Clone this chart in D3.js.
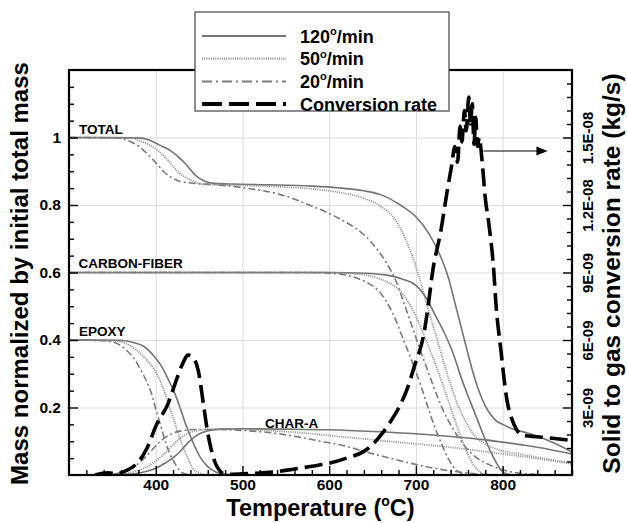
<!DOCTYPE html>
<html>
<head>
<meta charset="utf-8">
<script src="https://cdn.jsdelivr.net/npm/d3@7"></script>
<style>
  html, body { margin: 0; padding: 0; background: #fff; }
  svg { display: block; font-family: "Liberation Sans", Arial, Helvetica, sans-serif; font-weight: bold; }
</style>
</head>
<body>
<svg id="chart" width="627" height="523"></svg>
<script>
// ---- Mass fractions vs temperature [T (°C), fraction of initial mass] ----
const total120 = [[300,1],[380,0.999],[392,0.993],[401,0.982],[409,0.972],[417,0.961],[425,0.945],[433,0.926],[440,0.905],[445,0.89],[451,0.878],[458,0.869],[468,0.864],[490,0.862],[530,0.86],[580,0.856],[610,0.851],[640,0.842],[660,0.83],[682,0.8],[700,0.765],[715,0.715],[728,0.65],[738,0.58],[744,0.52],[750,0.46],[756,0.4],[762,0.34],[768,0.285],[774,0.24],[780,0.205],[786,0.18],[792,0.162],[800,0.15],[810,0.138],[825,0.127],[840,0.115],[860,0.094],[880,0.068]];
const total50 = [[300,1],[370,0.999],[382,0.99],[394,0.976],[403,0.96],[411,0.941],[419,0.918],[426,0.897],[434,0.882],[442,0.872],[452,0.862],[470,0.86],[500,0.858],[550,0.853],[579,0.848],[610,0.838],[640,0.82],[660,0.795],[675,0.76],[688,0.7],[697,0.64],[705,0.575],[712,0.51],[720,0.44],[728,0.37],[736,0.3],[745,0.23],[755,0.17],[765,0.125],[778,0.095],[795,0.075],[820,0.062],[850,0.048],[880,0.035]];
const total20 = [[300,1],[355,0.999],[364,0.995],[373,0.985],[382,0.971],[390,0.952],[398,0.931],[404,0.914],[410,0.897],[418,0.882],[426,0.872],[441,0.865],[470,0.86],[501,0.851],[541,0.833],[579,0.798],[600,0.775],[620,0.748],[640,0.712],[655,0.67],[668,0.62],[677,0.575],[685,0.518],[693,0.46],[701,0.4],[710,0.335],[720,0.265],[730,0.2],[742,0.14],[755,0.09],[768,0.055],[785,0.03],[805,0.012],[830,0.003],[860,0]];

const fiber120 = [[300,0.6],[600,0.6],[640,0.598],[665,0.593],[685,0.58],[700,0.562],[713,0.52],[723,0.47],[733,0.42],[743,0.36],[752,0.29],[760,0.235],[767,0.19],[773,0.15],[780,0.105],[786,0.07],[792,0.04],[798,0.015],[805,0.003],[815,0],[880,0]];
const fiber50 = [[300,0.6],[590,0.6],[625,0.597],[650,0.588],[668,0.57],[680,0.55],[690,0.518],[700,0.47],[710,0.41],[720,0.345],[730,0.275],[740,0.2],[748,0.14],[756,0.085],[763,0.045],[770,0.018],[778,0.004],[790,0],[880,0]];
const fiber20 = [[300,0.6],[570,0.6],[605,0.597],[630,0.585],[645,0.568],[656,0.548],[665,0.518],[675,0.47],[685,0.405],[695,0.34],[705,0.27],[714,0.2],[722,0.14],[730,0.09],[737,0.05],[744,0.022],[752,0.006],[762,0],[880,0]];

const epoxy120 = [[300,0.4],[360,0.399],[375,0.392],[387,0.38],[397,0.355],[407,0.321],[415,0.28],[422,0.242],[428,0.2],[434,0.154],[440,0.115],[445,0.085],[452,0.05],[460,0.025],[470,0.008],[480,0.002],[500,0],[880,0]];
const epoxy50 = [[300,0.4],[350,0.398],[365,0.39],[378,0.37],[390,0.34],[399,0.31],[405,0.28],[411,0.24],[416,0.2],[422,0.154],[427,0.115],[432,0.08],[437,0.05],[442,0.022],[450,0.006],[460,0],[880,0]];
const epoxy20 = [[300,0.4],[340,0.398],[355,0.39],[366,0.37],[375,0.345],[382,0.315],[389,0.28],[395,0.242],[399,0.205],[403,0.17],[407,0.135],[411,0.1],[416,0.065],[422,0.035],[428,0.012],[436,0.002],[445,0],[880,0]];

const charA120 = [[300,0],[370,0.002],[385,0.008],[400,0.02],[412,0.037],[422,0.055],[430,0.075],[437,0.095],[445,0.113],[453,0.125],[462,0.132],[475,0.136],[500,0.137],[550,0.136],[600,0.134],[650,0.129],[700,0.122],[740,0.114],[780,0.104],[820,0.09],[850,0.078],[880,0.062]];
const charA50 = [[300,0],[360,0.002],[375,0.01],[390,0.025],[402,0.045],[412,0.068],[420,0.09],[428,0.108],[436,0.122],[445,0.13],[458,0.135],[480,0.136],[520,0.133],[568,0.125],[620,0.112],[680,0.097],[733,0.084],[790,0.066],[836,0.05],[880,0.033]];
const charA20 = [[300,0],[350,0.002],[362,0.01],[375,0.025],[386,0.048],[396,0.075],[404,0.097],[412,0.113],[420,0.124],[430,0.131],[445,0.135],[470,0.135],[500,0.132],[530,0.126],[560,0.115],[590,0.1],[620,0.085],[640,0.07],[670,0.05],[702,0.03],[730,0.016],[752,0.008],[775,0.002],[800,0],[880,0]];

// ---- Solid to gas conversion rate [T (°C), kg/s] ----
const conversionRate = [[330,0],[345,0.1e-9],[355,0.06e-9],[365,0.18e-9],[375,0.4e-9],[382,0.68e-9],[390,1.2e-9],[401,2.24e-9],[414,3.15e-9],[425,4.35e-9],[432,5.03e-9],[437,5.33e-9],[442,5.25e-9],[449,4.65e-9],[455,3.15e-9],[459,2.1e-9],[464,1.13e-9],[468,0.6e-9],[473,0.23e-9],[478,0.06e-9],[485,0.03e-9],[500,0.05e-9],[520,0.09e-9],[540,0.15e-9],[560,0.27e-9],[580,0.39e-9],[602,0.54e-9],[620,0.75e-9],[640,1.05e-9],[650,1.35e-9],[660,1.79e-9],[670,2.33e-9],[679,2.9e-9],[690,3.83e-9],[698,4.8e-9],[710,6.45e-9],[715,7.77e-9],[719,8.96e-9],[729,10.9e-9],[736,12.6e-9],[741,13.7e-9],[745,14.6e-9],[748,13.9e-9],[751,15.5e-9],[753,14.8e-9],[756,16.2e-9],[758,15.3e-9],[761,16.8e-9],[763,15.6e-9],[765,16.5e-9],[767,14.7e-9],[769,15.9e-9],[771,14.6e-9],[773,15.0e-9],[776,14.1e-9],[780,12.3e-9],[784,11.2e-9],[790,8.96e-9],[792,7.77e-9],[798,5.55e-9],[805,3.33e-9],[811,2.45e-9],[816,2.03e-9],[821,1.79e-9],[830,1.73e-9],[845,1.68e-9],[860,1.62e-9],[880,1.53e-9]];

// ---- Axis ticks ----
const xTicks = [400, 500, 600, 700, 800];
const yTicks = [0.2, 0.4, 0.6, 0.8, 1];
const rateTicks = [3e-9, 6e-9, 9e-9, 1.2e-8, 1.5e-8];

// ---- Legend and curve labels ----
const legendItems = [
  { key: "120", parts: ["120", "o", "/min"] },
  { key: "50", parts: ["50", "o", "/min"] },
  { key: "20", parts: ["20", "o", "/min"] },
  { key: "rate", parts: ["Conversion rate"] }
];
const curveLabels = [
  { text: "TOTAL", T: 311.5, v: 1.0, dy: -4 },
  { text: "CARBON-FIBER", T: 311, v: 0.6, dy: -5 },
  { text: "EPOXY", T: 311.5, v: 0.4, dy: -4 },
  { text: "CHAR-A", T: 526, v: 0.136, dy: -1 }
];

const massSeries = [
  { rate: "120", data: total120 }, { rate: "50", data: total50 }, { rate: "20", data: total20 },
  { rate: "120", data: fiber120 }, { rate: "50", data: fiber50 }, { rate: "20", data: fiber20 },
  { rate: "120", data: epoxy120 }, { rate: "50", data: epoxy50 }, { rate: "20", data: epoxy20 },
  { rate: "120", data: charA120 }, { rate: "50", data: charA50 }, { rate: "20", data: charA20 }
];

const styles = {
  "120": { stroke: "#747474", width: 1.6, dash: null },
  "50": { stroke: "#8a8a8a", width: 1.8, dash: "1,1.2" },
  "20": { stroke: "#7a7a7a", width: 1.6, dash: "7,3,2,3" },
  "rate": { stroke: "#000", width: 3.6, dash: "18,7" }
};

const svg = d3.select("#chart");
const L = 69, R = 572, T0 = 70, B = 475;

const x = d3.scaleLinear().domain([300, 880]).range([L, R]);
const y = d3.scaleLinear().domain([0, 1.2]).range([B, T0]);
const yR = d3.scaleLinear().domain([0, 1.8e-8]).range([B, T0]);

svg.append("defs").append("clipPath").attr("id", "plotClip")
  .append("rect").attr("x", L).attr("y", T0).attr("width", R - L).attr("height", B - T0);

// grid
svg.append("g").attr("transform", `translate(0,${B})`)
  .call(d3.axisBottom(x).tickValues(xTicks).tickSize(-(B - T0)).tickFormat(""))
  .call(g => g.select(".domain").remove())
  .call(g => g.selectAll("line").attr("stroke", "#dcdcdc").attr("stroke-width", 1));
svg.append("g").attr("transform", `translate(${L},0)`)
  .call(d3.axisLeft(y).tickValues(yTicks).tickSize(-(R - L)).tickFormat(""))
  .call(g => g.select(".domain").remove())
  .call(g => g.selectAll("line").attr("stroke", "#dcdcdc").attr("stroke-width", 1));

// curves
const plot = svg.append("g").attr("clip-path", "url(#plotClip)");
const massLine = d3.line().x(d => x(d[0])).y(d => y(d[1])).curve(d3.curveMonotoneX);
plot.selectAll("path.mass").data(massSeries).join("path")
  .attr("class", "mass")
  .attr("d", d => massLine(d.data))
  .attr("fill", "none")
  .attr("stroke", d => styles[d.rate].stroke)
  .attr("stroke-width", d => styles[d.rate].width)
  .attr("stroke-dasharray", d => styles[d.rate].dash);

const rateLine = d3.line().x(d => x(d[0])).y(d => yR(d[1])).curve(d3.curveMonotoneX);
plot.append("path")
  .attr("d", rateLine(conversionRate))
  .attr("fill", "none")
  .attr("stroke", styles.rate.stroke)
  .attr("stroke-width", styles.rate.width)
  .attr("stroke-dasharray", styles.rate.dash)
  .attr("stroke-linejoin", "round");

// axes
const styleTicks = g => {
  g.select(".domain").remove();
  g.selectAll("line").attr("stroke", "#000").attr("stroke-width", 1.4);
  g.selectAll("text").attr("font-size", 15.5).attr("font-weight", "bold").attr("fill", "#000")
    .attr("font-family", '"Liberation Sans", Arial, Helvetica, sans-serif');
};

svg.append("g").attr("transform", `translate(0,${B})`)
  .call(d3.axisBottom(x).tickValues(xTicks).tickSize(-9).tickPadding(4))
  .call(styleTicks);
svg.append("g").attr("transform", `translate(0,${B})`)
  .call(d3.axisBottom(x).tickValues(d3.range(320, 881, 20).filter(v => !xTicks.includes(v))).tickSize(-5).tickFormat(""))
  .call(styleTicks);

svg.append("g").attr("transform", `translate(${L},0)`)
  .call(d3.axisLeft(y).tickValues(yTicks).tickSize(-9).tickPadding(8).tickFormat(d => d === 1 ? "1" : d3.format(".1f")(d)))
  .call(styleTicks);
svg.append("g").attr("transform", `translate(${L},0)`)
  .call(d3.axisLeft(y).tickValues(d3.range(1, 24).map(i => i * 0.05).filter(v => !yTicks.some(t => Math.abs(t - v) < 1e-9))).tickSize(-5).tickFormat(""))
  .call(styleTicks);

const sci = v => {
  const e = Math.floor(Math.log10(v) + 1e-9);
  const m = +(v / Math.pow(10, e)).toFixed(1);
  return m + "E-" + String(-e).padStart(2, "0");
};
svg.append("g").attr("transform", `translate(${R},0)`)
  .call(d3.axisRight(yR).tickValues(rateTicks).tickSize(-9).tickFormat(sci))
  .call(styleTicks)
  .call(g => g.selectAll("text")
    .attr("font-size", 15)
    .attr("transform", "rotate(-90)")
    .attr("x", 0).attr("y", 21).attr("dy", null)
    .attr("text-anchor", "middle"));
svg.append("g").attr("transform", `translate(${R},0)`)
  .call(d3.axisRight(yR).tickValues(d3.range(1, 30).map(i => i * 6e-10).filter(v => !rateTicks.some(t => Math.abs(t - v) < 1e-13))).tickSize(-5).tickFormat(""))
  .call(styleTicks);

// frame
svg.append("rect").attr("x", L).attr("y", T0).attr("width", R - L).attr("height", B - T0)
  .attr("fill", "none").attr("stroke", "#000").attr("stroke-width", 2.2);

// curve labels
svg.selectAll("text.clabel").data(curveLabels).join("text")
  .attr("class", "clabel")
  .attr("x", d => x(d.T)).attr("y", d => y(d.v) + d.dy)
  .attr("font-size", 13.5).attr("fill", "#000")
  .text(d => d.text);

// arrow pointing to the right-hand axis
const arrowY = y(0.96);
svg.append("line").attr("x1", x(778)).attr("x2", x(842)).attr("y1", arrowY).attr("y2", arrowY)
  .attr("stroke", "#000").attr("stroke-width", 1.2);
svg.append("path")
  .attr("d", `M${x(852)},${arrowY} L${x(839)},${arrowY - 4.5} L${x(839)},${arrowY + 4.5} Z`)
  .attr("fill", "#000");

// text with a raised small "o" used as the degree mark
function richText(sel, parts, baseSize, supSize) {
  const shift = baseSize * 0.42;
  parts.forEach((p, i) => {
    if (p === "o") {
      sel.append("tspan").attr("font-size", supSize).attr("dy", -shift).text("o");
    } else {
      const t = sel.append("tspan").text(p);
      if (i > 0 && parts[i - 1] === "o") t.attr("dy", shift);
    }
  });
}

svg.append("text")
  .attr("transform", `translate(28,${(T0 + B) / 2 + 1}) rotate(-90)`)
  .attr("text-anchor", "middle").attr("font-size", 24).attr("fill", "#000")
  .text("Mass normalized by initial total mass");

svg.append("text")
  .attr("transform", `translate(620,${(T0 + B) / 2 + 1}) rotate(-90)`)
  .attr("text-anchor", "middle").attr("font-size", 24.5).attr("fill", "#000")
  .text("Solid to gas conversion rate (kg/s)");

const xt = svg.append("text")
  .attr("x", (L + R) / 2).attr("y", 516)
  .attr("text-anchor", "middle").attr("font-size", 23.5).attr("fill", "#000");
richText(xt, ["Temperature (", "o", "C)"], 23.5, 14);

// legend
const lg = svg.append("g");
lg.append("rect").attr("x", 195).attr("y", 12).attr("width", 254).attr("height", 99)
  .attr("fill", "#fff").attr("stroke", "#444").attr("stroke-width", 1.2);
legendItems.forEach((item, i) => {
  const cy = 36 + i * 22.7;
  const s = styles[item.key];
  lg.append("line").attr("x1", 202).attr("x2", 286).attr("y1", cy).attr("y2", cy)
    .attr("stroke", s.stroke).attr("stroke-width", item.key === "rate" ? 4 : s.width + 0.4)
    .attr("stroke-dasharray", item.key === "rate" ? "20,7" : (item.key === "20" ? "10,4,2,4" : s.dash));
  const t = lg.append("text").attr("x", 300).attr("y", cy + 6.5).attr("font-size", 18).attr("fill", "#000");
  richText(t, item.parts, 18, 11);
});
</script>
</body>
</html>
